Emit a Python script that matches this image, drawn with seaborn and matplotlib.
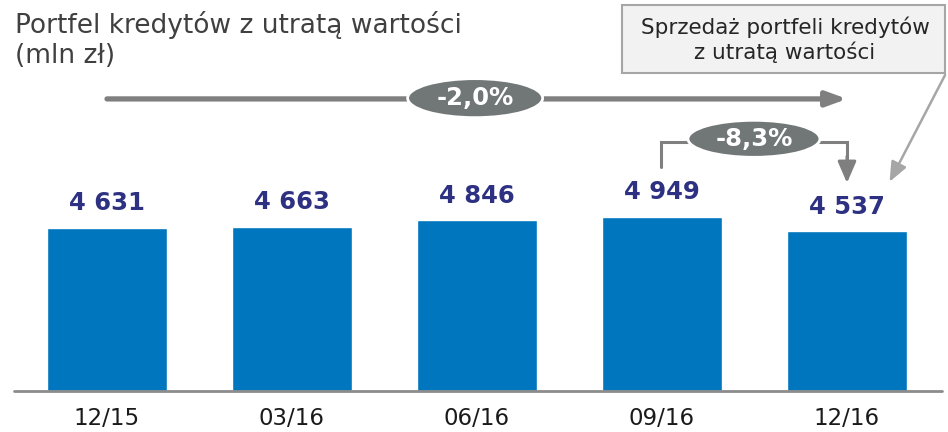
import matplotlib
matplotlib.use("Agg")
import matplotlib.pyplot as plt
import seaborn as sns
import pandas as pd
from matplotlib.patches import Ellipse, Rectangle

# ---- data ----
categories = ["12/15", "03/16", "06/16", "09/16", "12/16"]
values = [4631, 4663, 4846, 4949, 4537]
title_text = "Portfel kredytów z utratą wartości\n(mln zł)"
overall_change = "-2,0%"
quarter_change = "-8,3%"
note_text = "Sprzedaż portfeli kredytów\nz utratą wartości"

sns.set_theme(style="white")
plt.rcParams["font.family"] = ["DejaVu Sans"]

BAR = "#0076BE"
NAVY = "#2E3182"
GREY = "#7F7F7F"
ELL = "#717677"
LIGHT = "#A6A6A6"

fig = plt.figure(figsize=(9.48, 4.32), dpi=100)
ax = fig.add_axes([0, 41 / 432, 1, 391 / 432])

df = pd.DataFrame({"cat": categories, "val": values})
sns.barplot(data=df, x="cat", y="val", color=BAR, saturation=1, width=0.65, ax=ax)

ax.set_xlim(-107 / 185, (948 - 107) / 185)
ax.set_ylim(0, 11108)
for s in ax.spines.values():
    s.set_visible(False)
ax.set_yticks([])
ax.set_xlabel("")
ax.set_ylabel("")
ax.tick_params(axis="x", length=0, pad=11.5, labelcolor="#1a1a1a")
for t in ax.get_xticklabels():
    t.set_fontsize(16.5)

# baseline
ax.plot([-0.503, 4.514], [0, 0], color="#8C8C8C", lw=2, clip_on=False, zorder=3)

# value labels
labels = [f"{v:,}".replace(",", " ") for v in values]
ax.bar_label(ax.containers[0], labels=labels, padding=9, fontsize=17.5,
             fontweight="bold", color=NAVY)

xt = ax.get_xaxis_transform()

# main arrow -2,0%
ax.annotate("", xy=(4.0, 0.747), xytext=(0.0, 0.747), xycoords=xt, textcoords=xt,
            arrowprops=dict(arrowstyle="-|>,head_length=0.6,head_width=0.22",
                            color=GREY, lw=3.8, shrinkA=0, shrinkB=0,
                            mutation_scale=20))
ax.add_patch(Ellipse((1.99, 0.749), 135 / 185, 39 / 391, transform=xt,
                     facecolor=ELL, edgecolor="white", lw=2, zorder=5))
ax.text(1.99, 0.749, overall_change, transform=xt, ha="center", va="center",
        color="white", fontsize=17.5, fontweight="bold", zorder=6)

# bracket -8,3%
ax.plot([2.995, 2.995, 4.0, 4.0], [0.573, 0.637, 0.637, 0.58], transform=xt,
        color=GREY, lw=2.2, solid_joinstyle="miter", zorder=4)
ax.annotate("", xy=(4.0, 0.532), xytext=(4.0, 0.60), xycoords=xt, textcoords=xt,
            arrowprops=dict(arrowstyle="-|>,head_length=0.65,head_width=0.28",
                            color=GREY, lw=2.2, shrinkA=0, shrinkB=0,
                            mutation_scale=20))
ax.add_patch(Ellipse((3.497, 0.645), 132 / 185, 37 / 391, transform=xt,
                     facecolor=ELL, edgecolor="white", lw=2, zorder=5))
ax.text(3.497, 0.645, quarter_change, transform=xt, ha="center", va="center",
        color="white", fontsize=17.5, fontweight="bold", zorder=6)

# pointer from note box
ax.annotate("", xy=(4.23, 0.535), xytext=(4.53, 0.808), xycoords=xt, textcoords=xt,
            arrowprops=dict(arrowstyle="-|>,head_length=0.6,head_width=0.25",
                            color=LIGHT, lw=1.8, shrinkA=0, shrinkB=0,
                            mutation_scale=20))

# note box
fig.patches.append(Rectangle((622 / 948, 1 - 73 / 432), (945 - 622) / 948, 68 / 432,
                             transform=fig.transFigure, facecolor="#F2F2F2",
                             edgecolor=LIGHT, lw=1.5))
fig.text(785 / 948, 1 - 40 / 432, note_text, ha="center", va="center",
         fontsize=15.5, color="#262626", linespacing=1.2)

# title
fig.text(15 / 948, 1 - 11 / 432, title_text, ha="left", va="top", fontsize=19,
         color="#404040", linespacing=1.22)

fig.savefig("out.png", dpi=100)
